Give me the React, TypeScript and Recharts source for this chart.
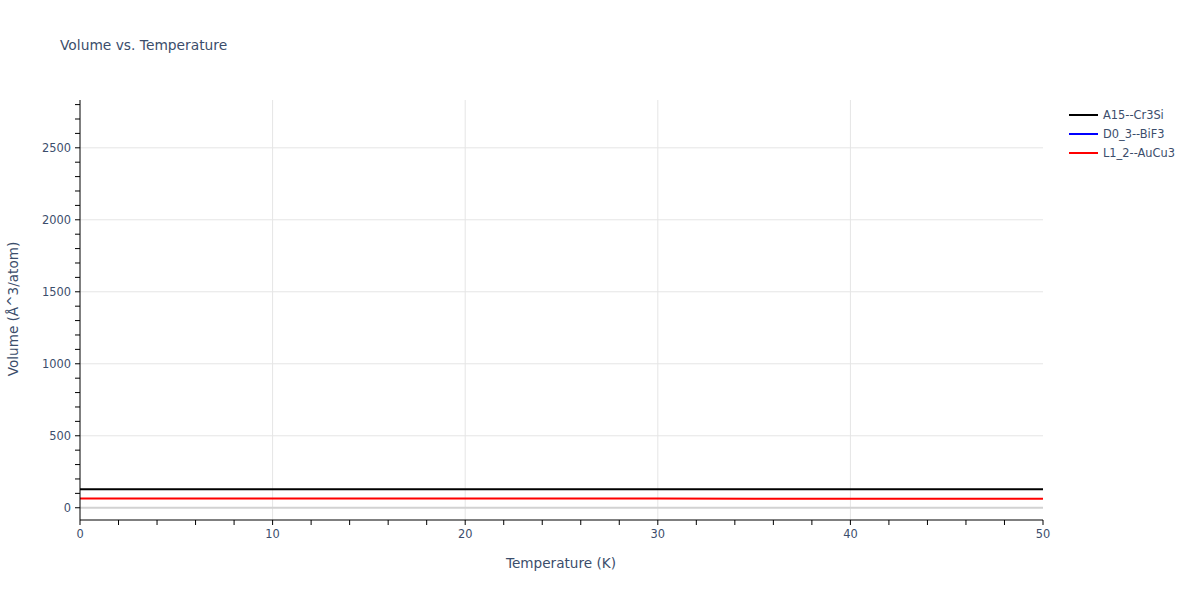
import React from "react"
import { LineChart, Line, XAxis, YAxis, CartesianGrid, ReferenceLine } from "recharts"

const temperatures = [0, 5, 10, 15, 20, 25, 30, 35, 40, 45, 50]
const a15Volume = [127.8, 127.8, 127.8, 127.8, 127.8, 127.8, 127.8, 127.8, 127.8, 127.8, 127.8]
const l12Volume = [65.0, 64.8, 64.5, 64.3, 64.0, 63.8, 63.5, 63.3, 63.0, 62.8, 62.5]
// D0_3 only has a single reported point, so no segment is drawn for it
const d03Temps = [0]
const d03Volume = [2688]

const xTicks = [0, 2, 4, 6, 8, 10, 12, 14, 16, 18, 20, 22, 24, 26, 28, 30, 32, 34, 36, 38, 40, 42, 44, 46, 48, 50]
const yTicks = [0, 100, 200, 300, 400, 500, 600, 700, 800, 900, 1000, 1100, 1200, 1300, 1400, 1500, 1600, 1700, 1800, 1900, 2000, 2100, 2200, 2300, 2400, 2500, 2600, 2700, 2800]
const xGrid = [10, 20, 30, 40]
const yGrid = [500, 1000, 1500, 2000, 2500]

const seriesInfo = [
  { name: "A15--Cr3Si", color: "#000000" },
  { name: "D0_3--BiF3", color: "#0000ff" },
  { name: "L1_2--AuCu3", color: "#ff0000" },
]

const a15Data = temperatures.map((t, i) => ({ t, v: a15Volume[i] }))
const l12Data = temperatures.map((t, i) => ({ t, v: l12Volume[i] }))
const d03Data = d03Temps.map((t, i) => ({ t, v: d03Volume[i] }))

const font = '"DejaVu Sans", Verdana, sans-serif'
const textColor = "#3b4d6b"

export default function App() {
  return (
    <div style={{ position: "absolute", left: 0, top: 0, width: 1200, height: 600, background: "#fff", fontFamily: font }}>
      <LineChart width={1200} height={600} margin={{ top: 100, right: 157, bottom: 50, left: 0 }}>
        <CartesianGrid
          stroke="#e5e5e5"
          strokeWidth={1}
          horizontalValues={yGrid}
          verticalValues={xGrid}
        />
        <ReferenceLine y={0} stroke="#d2d2d2" strokeWidth={2} />
        <XAxis
          type="number"
          dataKey="t"
          domain={[0, 50]}
          ticks={xTicks}
          interval={0}
          allowDataOverflow
          height={30}
          stroke="#000"
          tickSize={5}
          tickMargin={5}
          tick={{ fill: textColor, fontSize: 11.4, fontFamily: font }}
          tickFormatter={(v: number) => (v % 10 === 0 ? String(v) : "")}
        />
        <YAxis
          type="number"
          dataKey="v"
          domain={[-85, 2832]}
          ticks={yTicks}
          interval={0}
          allowDataOverflow
          width={80}
          stroke="#000"
          tickSize={5}
          tickMargin={4}
          tick={{ fill: textColor, fontSize: 11.4, fontFamily: font }}
          tickFormatter={(v: number) => (v % 500 === 0 ? String(v) : "")}
        />
        <Line data={a15Data} dataKey="v" name={seriesInfo[0].name} stroke={seriesInfo[0].color} strokeWidth={2} dot={false} isAnimationActive={false} />
        <Line data={d03Data} dataKey="v" name={seriesInfo[1].name} stroke={seriesInfo[1].color} strokeWidth={2} dot={false} hide isAnimationActive={false} />
        <Line data={l12Data} dataKey="v" name={seriesInfo[2].name} stroke={seriesInfo[2].color} strokeWidth={2} dot={false} isAnimationActive={false} />
      </LineChart>

      <div style={{ position: "absolute", left: 60, top: 37, fontSize: 13.8, color: textColor, whiteSpace: "nowrap" }}>
        Volume vs. Temperature
      </div>
      <div style={{ position: "absolute", left: 411, width: 300, top: 555, textAlign: "center", fontSize: 13.6, color: textColor }}>
        Temperature (K)
      </div>
      <div
        style={{
          position: "absolute",
          left: 13,
          top: 309,
          fontSize: 13.6,
          color: textColor,
          whiteSpace: "nowrap",
          transform: "translate(-50%, -50%) rotate(-90deg)",
        }}
      >
        Volume (Å^3/atom)
      </div>

      <div style={{ position: "absolute", left: 1069, top: 105 }}>
        {seriesInfo.map((s) => (
          <div key={s.name} style={{ display: "flex", alignItems: "center", height: 19, fontSize: 11.4, color: textColor }}>
            <div style={{ width: 29, height: 2, background: s.color, marginRight: 5 }} />
            <span>{s.name}</span>
          </div>
        ))}
      </div>
    </div>
  )
}
